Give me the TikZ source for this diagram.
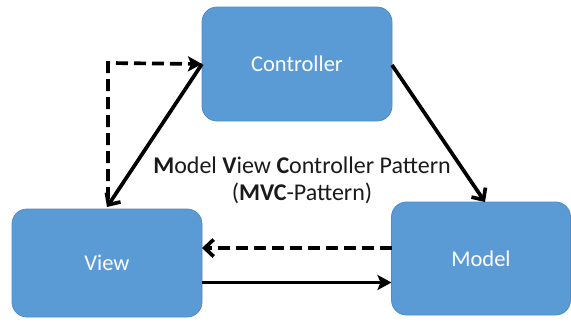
\documentclass[tikz,border=0pt]{standalone}
\usepackage{fontspec}
\setmainfont{Carlito}
\usetikzlibrary{arrows.meta}
\definecolor{boxblue}{HTML}{5B9BD5}
\definecolor{boxedge}{HTML}{4F8CC6}
\definecolor{captiongray}{HTML}{1A1A1A}
\tikzset{
  mvcbox/.style={rectangle, rounded corners=15pt, fill=boxblue, draw=boxedge, line width=0.8pt,
                 text=white, font=\fontsize{22.5}{26}\selectfont, inner sep=0pt},
  flow/.style={line width=3.7pt, -{Stealth[length=14pt,width=15pt,inset=3pt]}},
  flowopen/.style={line width=3.7pt, -{Straight Barb[length=9pt,width=17pt]}},
  callback/.style={line width=3.7pt, dash pattern=on 12pt off 6pt},
}
\begin{document}
\begin{tikzpicture}[x=1pt,y=-1pt]
\useasboundingbox (0,0) rectangle (571,322);
% the three components
\node[mvcbox, minimum width=190pt, minimum height=114pt] (ctrl) at (297,64) {Controller};
\node[mvcbox, minimum width=190pt, minimum height=108pt] (view) at (107,263) {View};
\node[mvcbox, minimum width=179pt, minimum height=113pt] (model) at (481,258.5) {Model};
% anchor points on the box edges
\coordinate (viewTop) at (107,207);
\coordinate (ctrlLeft) at (202,64);
\coordinate (ctrlRight) at (392,65);
\coordinate (modelTop) at (485,202);
\coordinate (bend) at (108,63);
\coordinate (viewR1) at (202,248);
\coordinate (modelL1) at (391.5,248);
\coordinate (viewR2) at (202,282.5);
\coordinate (modelL2) at (391.5,282.5);
\coordinate (dashStart) at (108,199);
% connectors
\draw[callback, -{Stealth[length=14pt,width=15pt,inset=3pt]}] (dashStart) -- (bend) -- (ctrlLeft);
\draw[flowopen] (ctrlLeft) -- (viewTop);
\draw[flowopen] (ctrlRight) -- (modelTop);
\draw[callback, -{Straight Barb[length=9pt,width=17pt]}] (modelL1) -- (viewR1);
\draw[flow] (viewR2) -- (modelL2);
% caption
\node[font=\fontsize{24}{27}\selectfont, text=captiongray, align=center] (caption) at (302,180)
  {\textbf{M}odel \textbf{V}iew \textbf{C}ontroller Pattern\\(\textbf{MVC}-Pattern)};
\end{tikzpicture}
\end{document}
